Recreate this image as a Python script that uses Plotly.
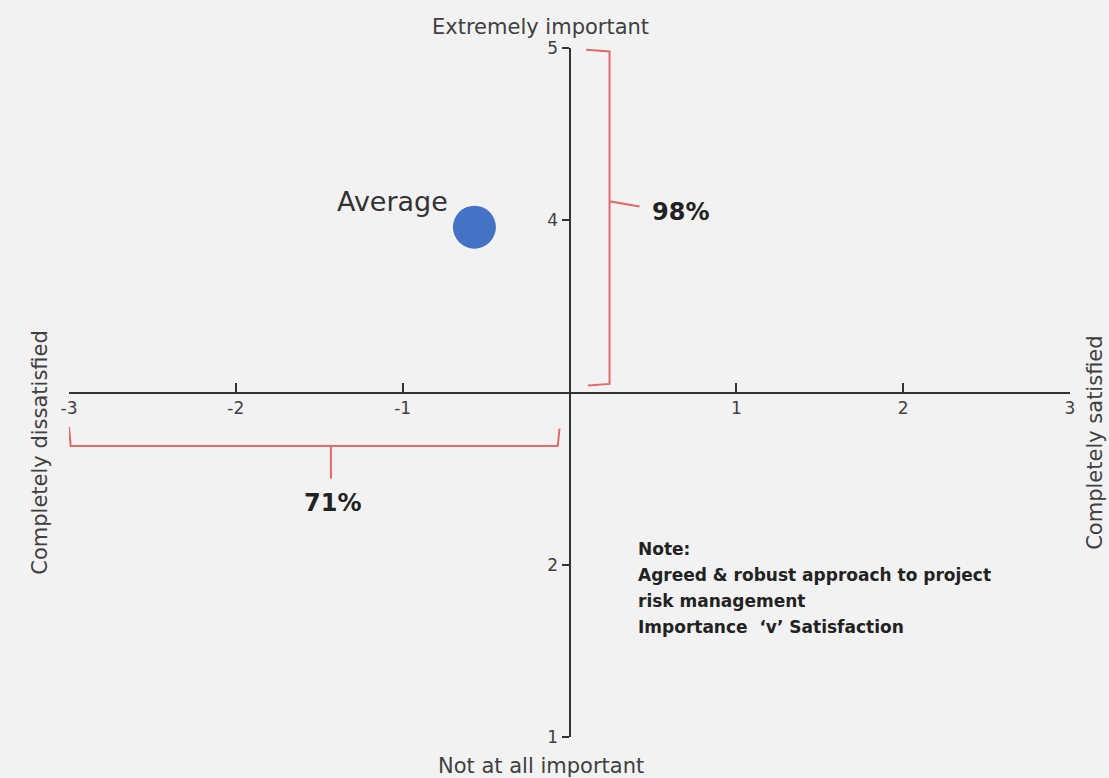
import plotly.graph_objects as go

# Data
satisfaction = [-0.57]
importance = [3.96]
point_labels = ["Average"]
x_ticks = [-3, -2, -1, 1, 2, 3]
y_ticks = [1, 2, 4, 5]
pct_importance = "98%"
pct_satisfaction = "71%"
note_lines = ["Note:", "Agreed &amp; robust approach to project", "risk management",
              "Importance  ‘v’ Satisfaction"]

FONT = "DejaVu Sans"
RED = "#e46a6a"
DARK = "#333333"

fig = go.Figure()
fig.add_trace(go.Scatter(
    x=satisfaction, y=importance, mode="markers",
    marker=dict(size=43, color="#4472c4", line=dict(width=0)),
    hoverinfo="skip", showlegend=False,
))

# Braces
v_brace = ("M 0.10,4.99 L 0.24,4.98 L 0.24,4.11 L 0.42,4.08 "
           "M 0.24,4.11 L 0.24,3.05 L 0.11,3.04")
h_brace = ("M -3.0,2.80 L -2.99,2.69 L -1.43,2.69 L -1.43,2.50 "
           "M -1.43,2.69 L -0.07,2.69 L -0.06,2.79")
shapes = [
    dict(type="path", path=v_brace, xref="x", yref="y", line=dict(color=RED, width=2)),
    dict(type="path", path=h_brace, xref="x", yref="y", line=dict(color=RED, width=2)),
]

annotations = [
    dict(x=-1.06, y=4.11, xref="x", yref="y", text=point_labels[0], showarrow=False,
         font=dict(family=FONT, size=27, color=DARK)),
    dict(x=0.48, y=4.05, xref="x", yref="y", text="<b>%s</b>" % pct_importance, showarrow=False,
         xanchor="left", font=dict(family=FONT, size=24, color="#222222")),
    dict(x=-1.42, y=2.36, xref="x", yref="y", text="<b>%s</b>" % pct_satisfaction, showarrow=False,
         font=dict(family=FONT, size=24, color="#222222")),
    dict(x=0.4715, y=1.030, xref="paper", yref="paper", xanchor="center", yanchor="middle",
         text="Extremely important", showarrow=False,
         font=dict(family=FONT, size=21, color="#404040")),
    dict(x=0.4715, y=-0.042, xref="paper", yref="paper", xanchor="center", yanchor="middle",
         text="Not at all important", showarrow=False,
         font=dict(family=FONT, size=21, color="#404040")),
    dict(x=-0.029, y=0.414, xref="paper", yref="paper", xanchor="center", yanchor="middle",
         text="Completely dissatisfied", showarrow=False,
         textangle=-90, font=dict(family=FONT, size=21, color="#404040")),
    dict(x=1.025, y=0.427, xref="paper", yref="paper", xanchor="center", yanchor="middle",
         text="Completely satisfied", showarrow=False,
         textangle=-90, font=dict(family=FONT, size=21, color="#404040")),
]
note_y = [2.09, 1.94, 1.79, 1.64]
for line, yy in zip(note_lines, note_y):
    annotations.append(dict(x=0.40, y=yy, xref="x", yref="y", xanchor="left", yanchor="middle",
                            text="<b>%s</b>" % line, showarrow=False,
                            font=dict(family=FONT, size=17, color="#222222")))

fig.update_layout(
    width=1109, height=778,
    margin=dict(l=69, r=39, t=48, b=41),
    paper_bgcolor="#f2f2f2", plot_bgcolor="#f2f2f2",
    showlegend=False,
    shapes=shapes, annotations=annotations,
    xaxis=dict(range=[-3, 3], anchor="free", position=0.5, side="bottom",
               tickvals=x_ticks, ticktext=[str(v) for v in x_ticks],
               ticks="inside", ticklen=9, tickwidth=2, tickcolor="#333333",
               showline=True, linecolor="#333333", linewidth=2,
               showgrid=False, zeroline=False,
               tickfont=dict(family=FONT, size=17, color="#404040")),
    yaxis=dict(range=[1, 5], anchor="free", position=0.5, side="left",
               tickvals=y_ticks, ticktext=[str(v) for v in y_ticks],
               ticks="outside", ticklen=7, tickwidth=2, tickcolor="#333333",
               showline=True, linecolor="#333333", linewidth=2,
               showgrid=False, zeroline=False,
               tickfont=dict(family=FONT, size=17, color="#404040")),
)

fig.write_html("out.html", config={"displayModeBar": False},
               post_script="document.body.style.margin='0';document.body.style.background='#f2f2f2';")
